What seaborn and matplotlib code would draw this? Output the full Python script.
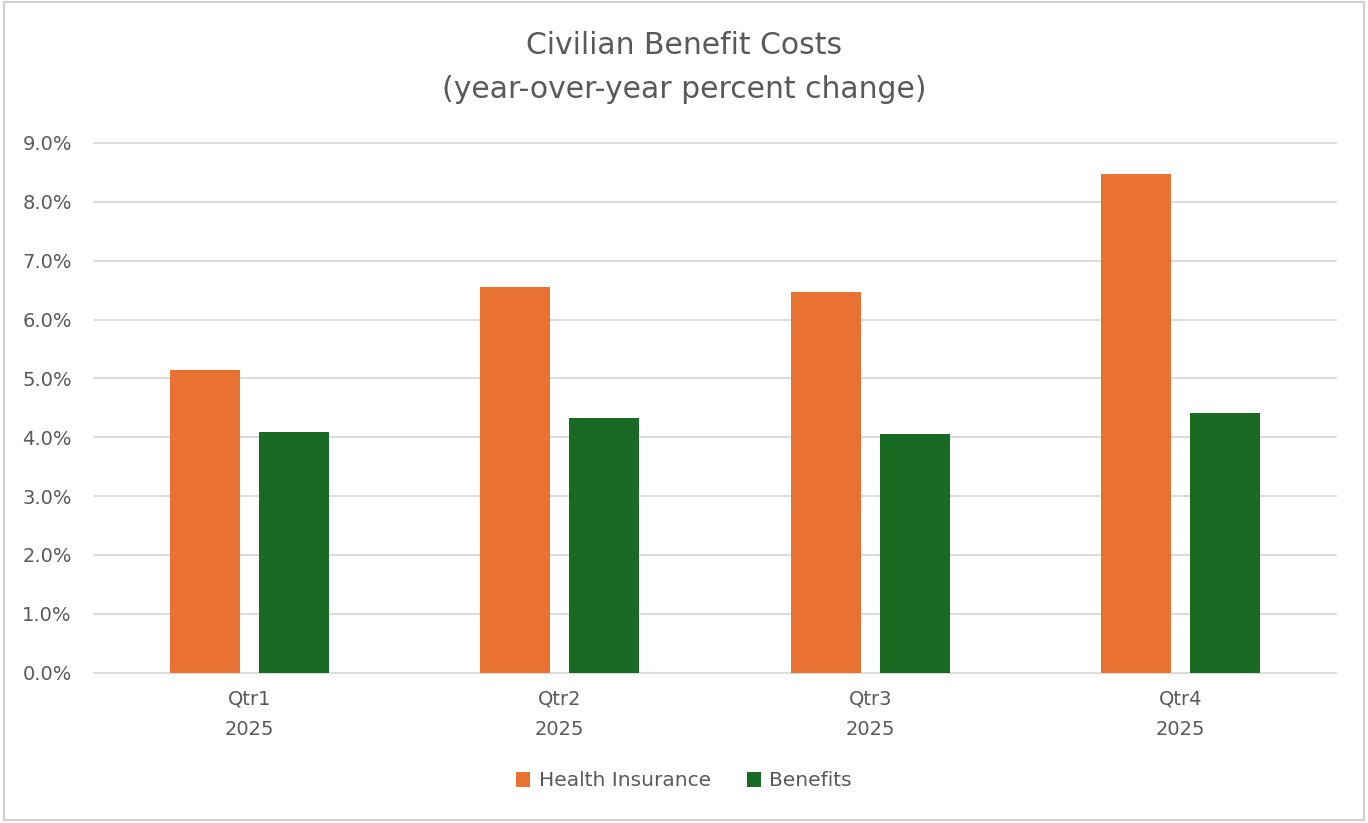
import matplotlib
matplotlib.use("Agg")
import matplotlib.pyplot as plt
import seaborn as sns
import pandas as pd
from matplotlib.patches import Rectangle
from matplotlib.ticker import FuncFormatter

categories = ["Qtr1\n2025", "Qtr2\n2025", "Qtr3\n2025", "Qtr4\n2025"]
series_names = ["Health Insurance", "Benefits"]
health_insurance = [5.14, 6.55, 6.47, 8.47]
benefits = [4.09, 4.32, 4.05, 4.42]
colors = ["#E97132", "#196B24"]

df = pd.DataFrame({
    "quarter": categories * 2,
    "series": [series_names[0]] * len(categories) + [series_names[1]] * len(categories),
    "value": health_insurance + benefits,
})

sns.set_theme(style="white")
plt.rcParams["font.family"] = ["DejaVu Sans"]
text_color = "#595959"

fig = plt.figure(figsize=(13.68, 8.23), dpi=100)
ax = fig.add_axes([94 / 1368, 1 - 672.7 / 823, (1336 - 94) / 1368, (672.7 - 143) / 823])

sns.barplot(data=df, x="quarter", y="value", hue="series", palette=colors,
            width=0.573, gap=0.213, ax=ax, saturation=1, edgecolor="none")

ax.set_ylim(0, 9)
ax.set_yticks(range(0, 10))
ax.yaxis.set_major_formatter(FuncFormatter(lambda v, p: f"{v:.1f}%"))
ax.set_xlabel("")
ax.set_ylabel("")
ax.grid(axis="y", color="#dcdcdc", linewidth=1.5)
for gl in ax.get_ygridlines():
    gl.set_clip_on(False)
ax.set_axisbelow(True)
for s in ax.spines.values():
    s.set_visible(False)
ax.tick_params(axis="y", length=0, pad=16, labelsize=14, labelcolor=text_color)
ax.tick_params(axis="x", length=0, pad=12, labelsize=14, labelcolor=text_color)
for lbl in ax.get_xticklabels():
    lbl.set_linespacing(1.75)

leg = ax.legend(loc="center", bbox_to_anchor=(0.5, 1 - 781 / 823), bbox_transform=fig.transFigure,
                ncol=2, frameon=False, fontsize=14.5, handlelength=0.7, handleheight=0.7,
                handletextpad=0.4, columnspacing=1.8)
for t in leg.get_texts():
    t.set_color(text_color)

fig.text(0.5, 1 - 45 / 823, "Civilian Benefit Costs", ha="center", va="center",
         fontsize=21.5, color=text_color)
fig.text(0.5, 1 - 90 / 823, "(year-over-year percent change)", ha="center", va="center",
         fontsize=21.5, color=text_color)

fig.patches.append(Rectangle((0.003, 0.004), 0.994, 0.993, transform=fig.transFigure,
                             fill=False, edgecolor="#d0d0d0", linewidth=1.5))

fig.savefig("out.png", dpi=100)
